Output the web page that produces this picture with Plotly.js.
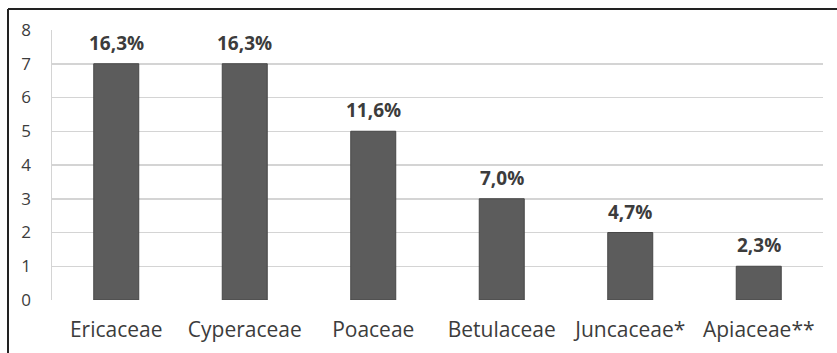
<!DOCTYPE html>
<html>
<head>
<meta charset="utf-8">
<script src="https://cdn.plot.ly/plotly-3.0.1.min.js"></script>
<style>
html,body{margin:0;padding:0;background:#fff;}
#chart{width:837px;height:353px;}
</style>
</head>
<body>
<div id="chart"></div>
<script>
const categories = ["Ericaceae", "Cyperaceae", "Poaceae", "Betulaceae", "Juncaceae*", "Apiaceae**"];
const counts = [7, 7, 5, 3, 2, 1];
const percentLabels = ["16,3%", "16,3%", "11,6%", "7,0%", "4,7%", "2,3%"];
const yTicks = [0, 1, 2, 3, 4, 5, 6, 7, 8];

const textColor = "#3c3c3c";

const trace = {
  type: "bar",
  x: categories,
  y: counts,
  marker: { color: "#5c5c5c", line: { color: "#474747", width: 1 } },
  hoverinfo: "skip"
};

const annotations = categories.map((c, i) => ({
  x: c, y: counts[i], xref: "x", yref: "y",
  text: "<b>" + percentLabels[i] + "</b>",
  showarrow: false, yanchor: "bottom", yshift: 6,
  font: { family: "Open Sans, sans-serif", size: 19, color: textColor }
}));

const layout = {
  width: 837, height: 353,
  margin: { l: 52, r: 14, t: 30, b: 53 },
  paper_bgcolor: "#fff", plot_bgcolor: "#fff",
  showlegend: false,
  bargap: 0.65,
  xaxis: {
    type: "category",
    tickfont: { family: "Open Sans, sans-serif", size: 21, color: textColor },
    showgrid: false, zeroline: false, showline: false,
    ticks: "", ticklabelstandoff: 15
  },
  yaxis: {
    range: [0, 8], tickvals: yTicks, ticktext: yTicks.map(String),
    tickfont: { family: "Open Sans, sans-serif", size: 17, color: textColor },
    showgrid: true, gridcolor: "#d4d4d4", gridwidth: 1.5,
    zeroline: false, showline: true, linecolor: "#d4d4d4", linewidth: 1.5,
    ticks: "", ticklabelstandoff: 16
  },
  annotations: annotations,
  shapes: [
    { type: "line", xref: "paper", yref: "paper", x0: -44/771, x1: 1.02, y0: 1 + 21/270, y1: 1 + 21/270,
      line: { color: "#222", width: 2 } },
    { type: "line", xref: "paper", yref: "paper", x0: -44/771, x1: -44/771, y0: 1 + 21/270, y1: -0.25,
      line: { color: "#222", width: 2 } }
  ]
};

Plotly.newPlot("chart", [trace], layout, { displayModeBar: false, staticPlot: true });
</script>
</body>
</html>
